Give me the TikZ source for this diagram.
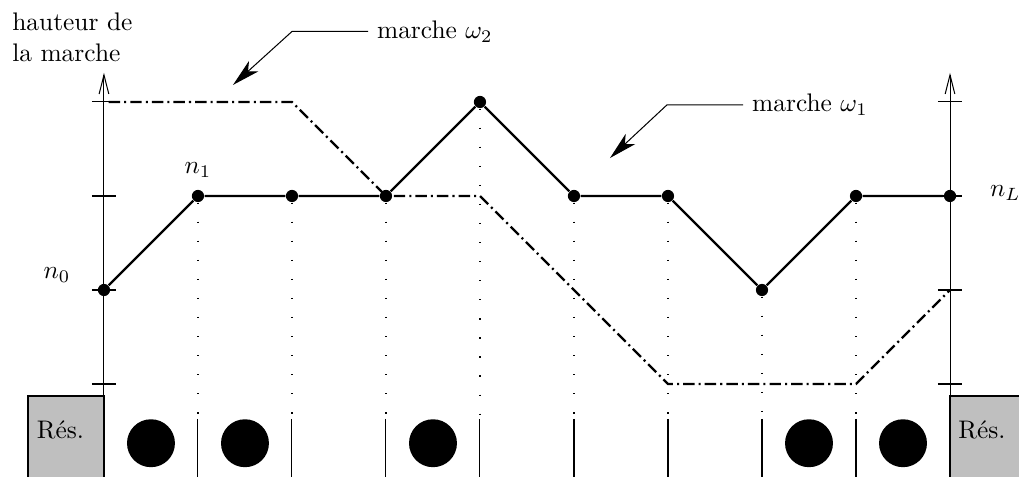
\documentclass[tikz,border=0pt]{standalone}
\usetikzlibrary{arrows.meta}

\begin{document}
\begin{tikzpicture}[x=1.3cm, y=1.3cm]
	\tikzset{marche lines/.style={line width=0.9pt, black}}
	\tikzset{other lines/.style={line width=0.9pt, black, dash pattern=on 4.5pt off 1.6pt on 0.8pt off 1.6pt}}
	\tikzset{drop lines/.style={line width=0.5pt, black, dash pattern=on 0.5pt off 7pt}}
	\tikzset{site dot/.style={circle, fill=black, inner sep=0pt, minimum size=4.8pt}}
	\tikzset{axis lines/.style={line width=0.4pt, black, -{Straight Barb[length=7.5pt, width=3.8pt]}}}
	\tikzset{pointer lines/.style={line width=0.4pt, black, -{Stealth[length=11pt, width=5.5pt, inset=3pt]}}}
	\tikzset{res box/.style={draw, fill=black!25, line width=0.5pt}}
	\useasboundingbox (-1.106, -0.979) rectangle (9.734, 4.085);
	\clip (-1.106, -0.979) rectangle (9.734, 4.085);
	% \draw (0, 0) grid (9, 3);

	% reservoirs
	\draw[res box] (-0.809, -0.128) rectangle (0, -1.2);
	\node (r0) at (-0.463, -0.49) {Rés.};
	\draw[res box] (9, -0.128) rectangle (10.2, -1.2);
	\node (r1) at (9.34, -0.49) {Rés.};

	% axes
	\draw[axis lines] (0, -0.128) -- (0, 3.31);
	\draw[axis lines] (9, -0.128) -- (9, 3.31);
	\draw (-0.128, 0) -- (0.128, 0);
	\draw (-0.128, 1) -- (0.128, 1);
	\draw (-0.128, 2) -- (0.128, 2);
	\draw (-0.128, 3) -- (0.128, 3);
	\draw (8.872, 0) -- (9.128, 0);
	\draw (8.872, 1) -- (9.128, 1);
	\draw (8.872, 2) -- (9.128, 2);
	\draw (8.872, 3) -- (9.128, 3);
	\node[anchor=north west, align=left] (h) at (-1.07, 4.04) {hauteur de\\la marche};

	% sites
	\node[site dot] (p0) at (0, 1) {};
	\node[site dot] (p1) at (1, 2) {};
	\node[site dot] (p2) at (2, 2) {};
	\node[site dot] (p3) at (3, 2) {};
	\node[site dot] (p4) at (4, 3) {};
	\node[site dot] (p5) at (5, 2) {};
	\node[site dot] (p6) at (6, 2) {};
	\node[site dot] (p7) at (7, 1) {};
	\node[site dot] (p8) at (8, 2) {};
	\node[site dot] (p9) at (9, 2) {};
	\coordinate (base) at (0, -0.36);

	\draw[drop lines] (p1) -- (p1 |- base);
	\draw[drop lines] (p2) -- (p2 |- base);
	\draw[drop lines] (p3) -- (p3 |- base);
	\draw[drop lines] (p4) -- (p4 |- base);
	\draw[drop lines] (p5) -- (p5 |- base);
	\draw[drop lines] (p6) -- (p6 |- base);
	\draw[drop lines] (p7) -- (p7 |- base);
	\draw[drop lines] (p8) -- (p8 |- base);

	% walls and particles
	\draw (1, -0.37) -- (1, -1.1);
	\draw (2, -0.37) -- (2, -1.1);
	\draw (3, -0.37) -- (3, -1.1);
	\draw (4, -0.37) -- (4, -1.1);
	\draw (5, -0.37) -- (5, -1.1);
	\draw (6, -0.37) -- (6, -1.1);
	\draw (7, -0.37) -- (7, -1.1);
	\draw (8, -0.37) -- (8, -1.1);
	\fill (0.5, -0.63) circle (0.255);
	\fill (1.5, -0.63) circle (0.255);
	\fill (3.5, -0.63) circle (0.255);
	\fill (7.5, -0.63) circle (0.255);
	\fill (8.5, -0.63) circle (0.255);

	% marche 2
	\coordinate (w0) at (0.05, 3);
	\coordinate (w1) at (2, 3);
	\coordinate (w2) at (3, 2);
	\coordinate (w3) at (4, 2);
	\coordinate (w4) at (6, 0);
	\coordinate (w5) at (8, 0);
	\coordinate (w6) at (9, 1);
	\draw[other lines] (w0) -- (w1) -- (w2) -- (w3) -- (w4) -- (w5) -- (w6);

	% marche 1
	\draw[marche lines] (p0) -- (p1) -- (p2) -- (p3) -- (p4) -- (p5) -- (p6) -- (p7) -- (p8) -- (p9);

	\node (n0) at (-0.5, 1.16) {$n_0$};
	\node (n1) at (1, 2.28) {$n_1$};
	\node (nL) at (9.59, 2.03) {$n_L$};

	% pointers
	\node[anchor=west] (m2) at (2.81, 3.75) {marche $\omega_2$};
	\coordinate (b2) at (2, 3.75);
	\coordinate (t2) at (1.372, 3.181);
	\draw[pointer lines] (m2.west) -- (b2) -- (t2);
	\node[anchor=west] (m1) at (6.80, 2.97) {marche $\omega_1$};
	\coordinate (b1) at (5.99, 2.97);
	\coordinate (t1) at (5.383, 2.404);
	\draw[pointer lines] (m1.west) -- (b1) -- (t1);
\end{tikzpicture}
\end{document}
